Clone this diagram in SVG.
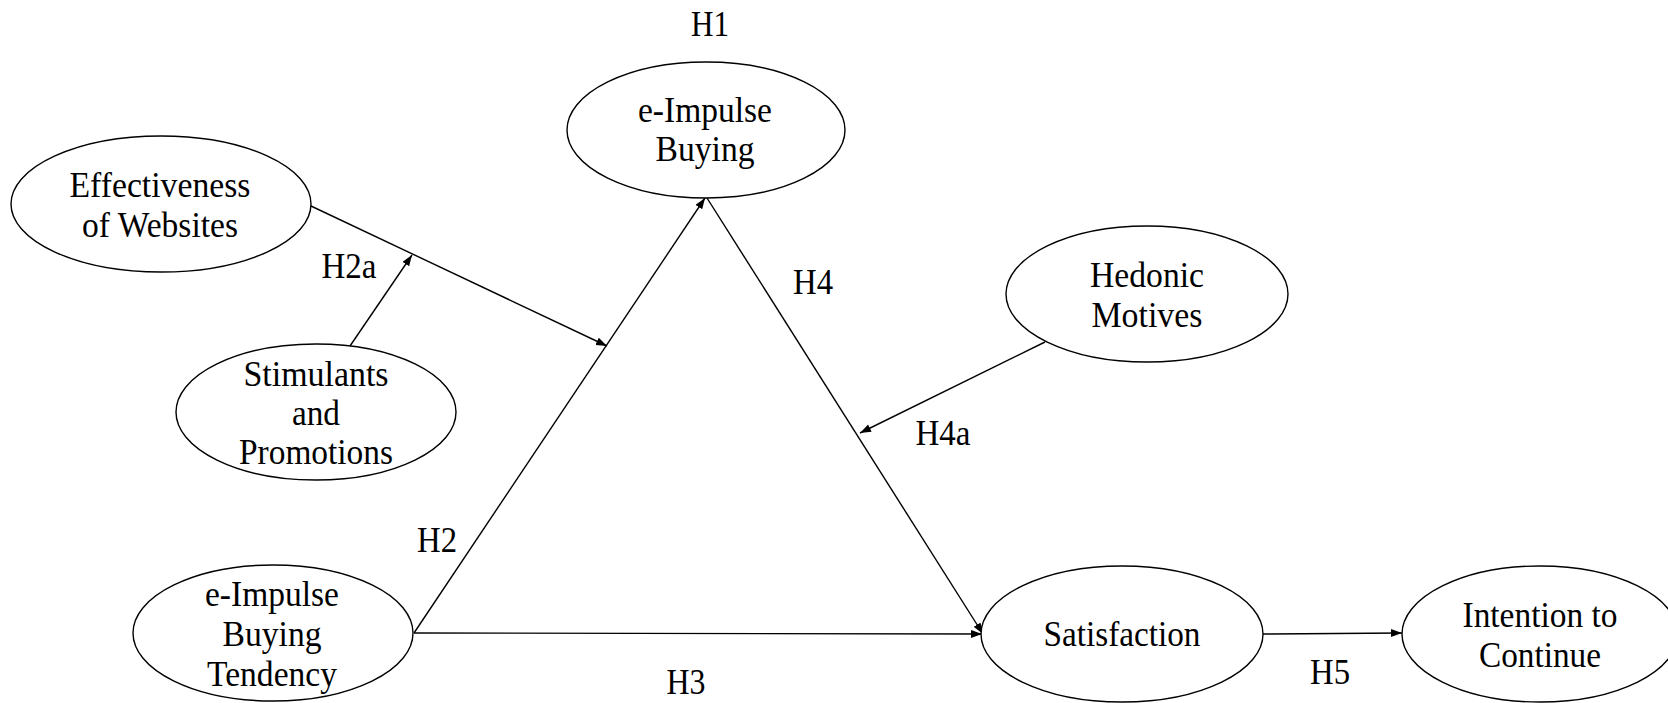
<svg xmlns="http://www.w3.org/2000/svg" width="1668" height="703" viewBox="0 0 1668 703">
<style>
.n ellipse{fill:#fff;stroke:#000;stroke-width:1.4}
text{font-family:"Liberation Serif","Times New Roman",serif;font-size:35px;fill:#000;text-anchor:middle}
.c line{stroke:#000;stroke-width:1.4}
</style>
<defs>
<marker id="ah" markerUnits="userSpaceOnUse" markerWidth="12" markerHeight="10" refX="11" refY="4" orient="auto">
<path d="M0,0 L11,4 L0,8 Z" fill="#000"/>
</marker>
</defs>
<rect width="1668" height="703" fill="#fff"/>
<g class="c" id="connectors">
<line x1="414" y1="633" x2="705" y2="198" marker-end="url(#ah)"/>
<line x1="707" y1="198" x2="983" y2="634" marker-end="url(#ah)"/>
<line x1="414" y1="633" x2="982" y2="634" marker-end="url(#ah)"/>
<line x1="311" y1="206" x2="607" y2="346" marker-end="url(#ah)"/>
<line x1="350" y1="346" x2="412" y2="255" marker-end="url(#ah)"/>
<line x1="1045" y1="342" x2="860" y2="433" marker-end="url(#ah)"/>
<line x1="1263" y1="634" x2="1402" y2="633" marker-end="url(#ah)"/>
</g>
<g class="n" id="n-eib">
<ellipse cx="706" cy="130" rx="139" ry="68"/>
<text x="705" y="122" textLength="134" lengthAdjust="spacingAndGlyphs">e-Impulse</text>
<text x="705" y="161" textLength="99" lengthAdjust="spacingAndGlyphs">Buying</text>
</g>
<g class="n" id="n-eff">
<ellipse cx="161" cy="204" rx="150" ry="68"/>
<text x="160" y="197" textLength="181" lengthAdjust="spacingAndGlyphs">Effectiveness</text>
<text x="160" y="237" textLength="156" lengthAdjust="spacingAndGlyphs">of Websites</text>
</g>
<g class="n" id="n-stim">
<ellipse cx="316" cy="412" rx="140" ry="68"/>
<text x="316" y="386" textLength="145" lengthAdjust="spacingAndGlyphs">Stimulants</text>
<text x="316" y="425" textLength="48" lengthAdjust="spacingAndGlyphs">and</text>
<text x="316" y="464" textLength="154" lengthAdjust="spacingAndGlyphs">Promotions</text>
</g>
<g class="n" id="n-eibt">
<ellipse cx="273" cy="633" rx="140" ry="68"/>
<text x="272" y="606" textLength="134" lengthAdjust="spacingAndGlyphs">e-Impulse</text>
<text x="272" y="646" textLength="99" lengthAdjust="spacingAndGlyphs">Buying</text>
<text x="272" y="686" textLength="130" lengthAdjust="spacingAndGlyphs">Tendency</text>
</g>
<g class="n" id="n-hed">
<ellipse cx="1147" cy="294" rx="141" ry="68"/>
<text x="1147" y="287" textLength="114" lengthAdjust="spacingAndGlyphs">Hedonic</text>
<text x="1147" y="327" textLength="111" lengthAdjust="spacingAndGlyphs">Motives</text>
</g>
<g class="n" id="n-sat">
<ellipse cx="1122" cy="634" rx="141" ry="68"/>
<text x="1122" y="646" textLength="157" lengthAdjust="spacingAndGlyphs">Satisfaction</text>
</g>
<g class="n" id="n-int">
<ellipse cx="1540" cy="634" rx="138" ry="68"/>
<text x="1540" y="627" textLength="155" lengthAdjust="spacingAndGlyphs">Intention to</text>
<text x="1540" y="667" textLength="122" lengthAdjust="spacingAndGlyphs">Continue</text>
</g>
<g id="labels">
<text x="710" y="36" textLength="38" lengthAdjust="spacingAndGlyphs">H1</text>
<text x="349" y="278" textLength="55" lengthAdjust="spacingAndGlyphs">H2a</text>
<text x="813" y="294" textLength="40" lengthAdjust="spacingAndGlyphs">H4</text>
<text x="943" y="445" textLength="55" lengthAdjust="spacingAndGlyphs">H4a</text>
<text x="437" y="552" textLength="40" lengthAdjust="spacingAndGlyphs">H2</text>
<text x="686" y="694" textLength="39" lengthAdjust="spacingAndGlyphs">H3</text>
<text x="1330" y="684" textLength="40" lengthAdjust="spacingAndGlyphs">H5</text>
</g>
</svg>
